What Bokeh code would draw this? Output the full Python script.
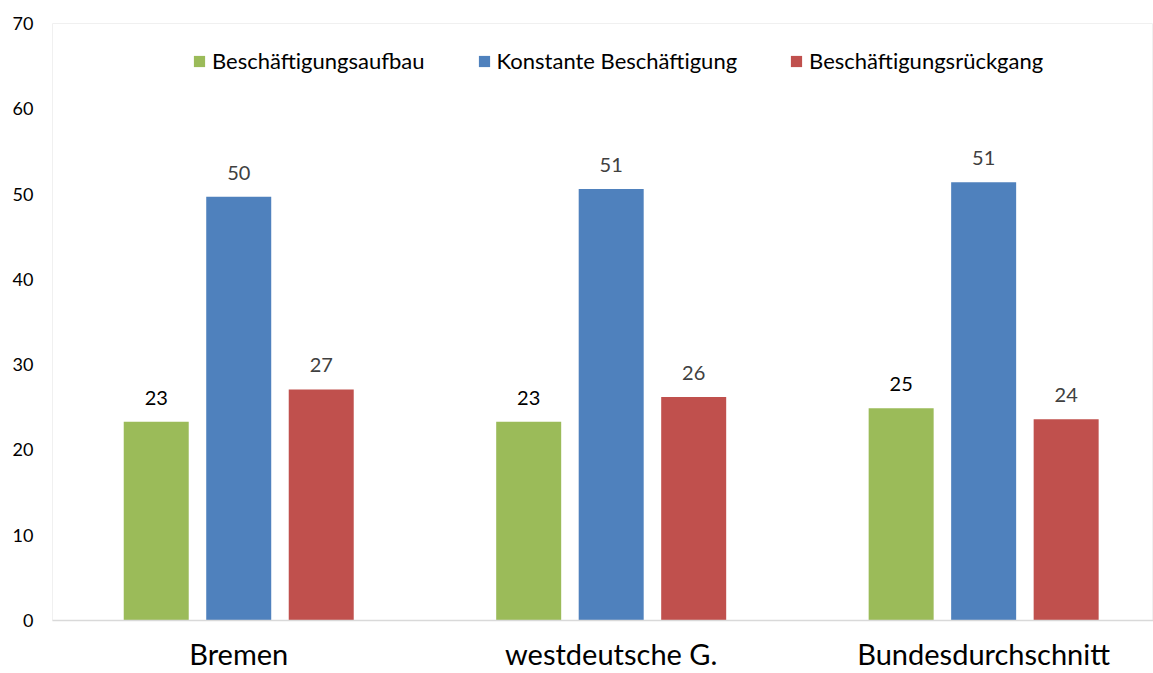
from bokeh.plotting import figure
from bokeh.models import ColumnDataSource, Range1d, FixedTicker, Legend, LegendItem
from bokeh.core.properties import value
from bokeh.embed import file_html
from bokeh.resources import INLINE

categories = ["Bremen", "westdeutsche G.", "Bundesdurchschnitt"]
series_names = ["Beschäftigungsaufbau", "Konstante Beschäftigung", "Beschäftigungsrückgang"]
aufbau = [23.3, 23.3, 24.9]
konstant = [49.7, 50.6, 51.4]
rueckgang = [27.1, 26.2, 23.6]
y_ticks = [0, 10, 20, 30, 40, 50, 60, 70]

colors = ["#9BBB59", "#4F81BD", "#C0504D"]
label_colors = ["#000000", "#404040", "#404040"]
FONT = "Lato"

p = figure(width=1153, height=673, output_backend="svg", toolbar_location=None,
           x_range=Range1d(0, 2.956), y_range=Range1d(0, 70),
           min_border_left=52, min_border_right=0, min_border_top=23, min_border_bottom=53)
p.xgrid.visible = False
p.ygrid.visible = False
p.outline_line_color = "#f0f0f0"
p.background_fill_color = "white"
p.border_fill_color = "white"

xs = [i + 0.5 for i in range(len(categories))]
offsets = [-0.2215, 0.0, 0.2215]
bar_w = 0.1745

items = []
for s, (name, vals) in enumerate(zip(series_names, [aufbau, konstant, rueckgang])):
    src = ColumnDataSource(dict(
        x=[x + offsets[s] for x in xs],
        top=vals,
        lbl=[str(int(v + 0.5)) for v in vals],
    ))
    r = p.vbar(x="x", top="top", width=bar_w, bottom=0, source=src,
               fill_color=colors[s], line_color=None)
    p.text(x="x", y="top", text="lbl", source=src, text_align="center",
           text_baseline="bottom", y_offset=-17, text_font=value(FONT),
           text_font_size="20px", text_color=label_colors[s])
    items.append(LegendItem(label=name, renderers=[r]))

legend = Legend(items=items, orientation="horizontal", location=(140, 546),
                padding=0, spacing=52, label_standoff=6, glyph_width=14, glyph_height=14,
                label_text_font=FONT, label_text_font_size="22px", label_text_color="black",
                border_line_color=None, background_fill_alpha=0, margin=0)
p.add_layout(legend, "center")

p.xaxis.ticker = FixedTicker(ticks=xs)
p.xaxis.major_label_overrides = {x: c for x, c in zip(xs, categories)}
p.xaxis.major_label_text_font = FONT
p.xaxis.major_label_text_font_size = "29px"
p.xaxis.major_label_text_color = "black"
p.xaxis.major_label_standoff = 15
p.xaxis.axis_line_color = "#d9d9d9"
p.xaxis.axis_line_width = 1.5
p.xaxis.major_tick_line_color = None
p.xaxis.major_tick_out = 0
p.xaxis.major_tick_in = 0
p.xaxis.minor_tick_line_color = None

p.yaxis.ticker = FixedTicker(ticks=y_ticks)
p.yaxis.axis_line_color = None
p.yaxis.major_tick_line_color = None
p.yaxis.minor_tick_line_color = None
p.yaxis.major_label_text_font = FONT
p.yaxis.major_label_text_font_size = "18px"
p.yaxis.major_label_text_color = "black"
p.yaxis.major_label_standoff = 13

open("out.html", "w").write(file_html(p, INLINE))
